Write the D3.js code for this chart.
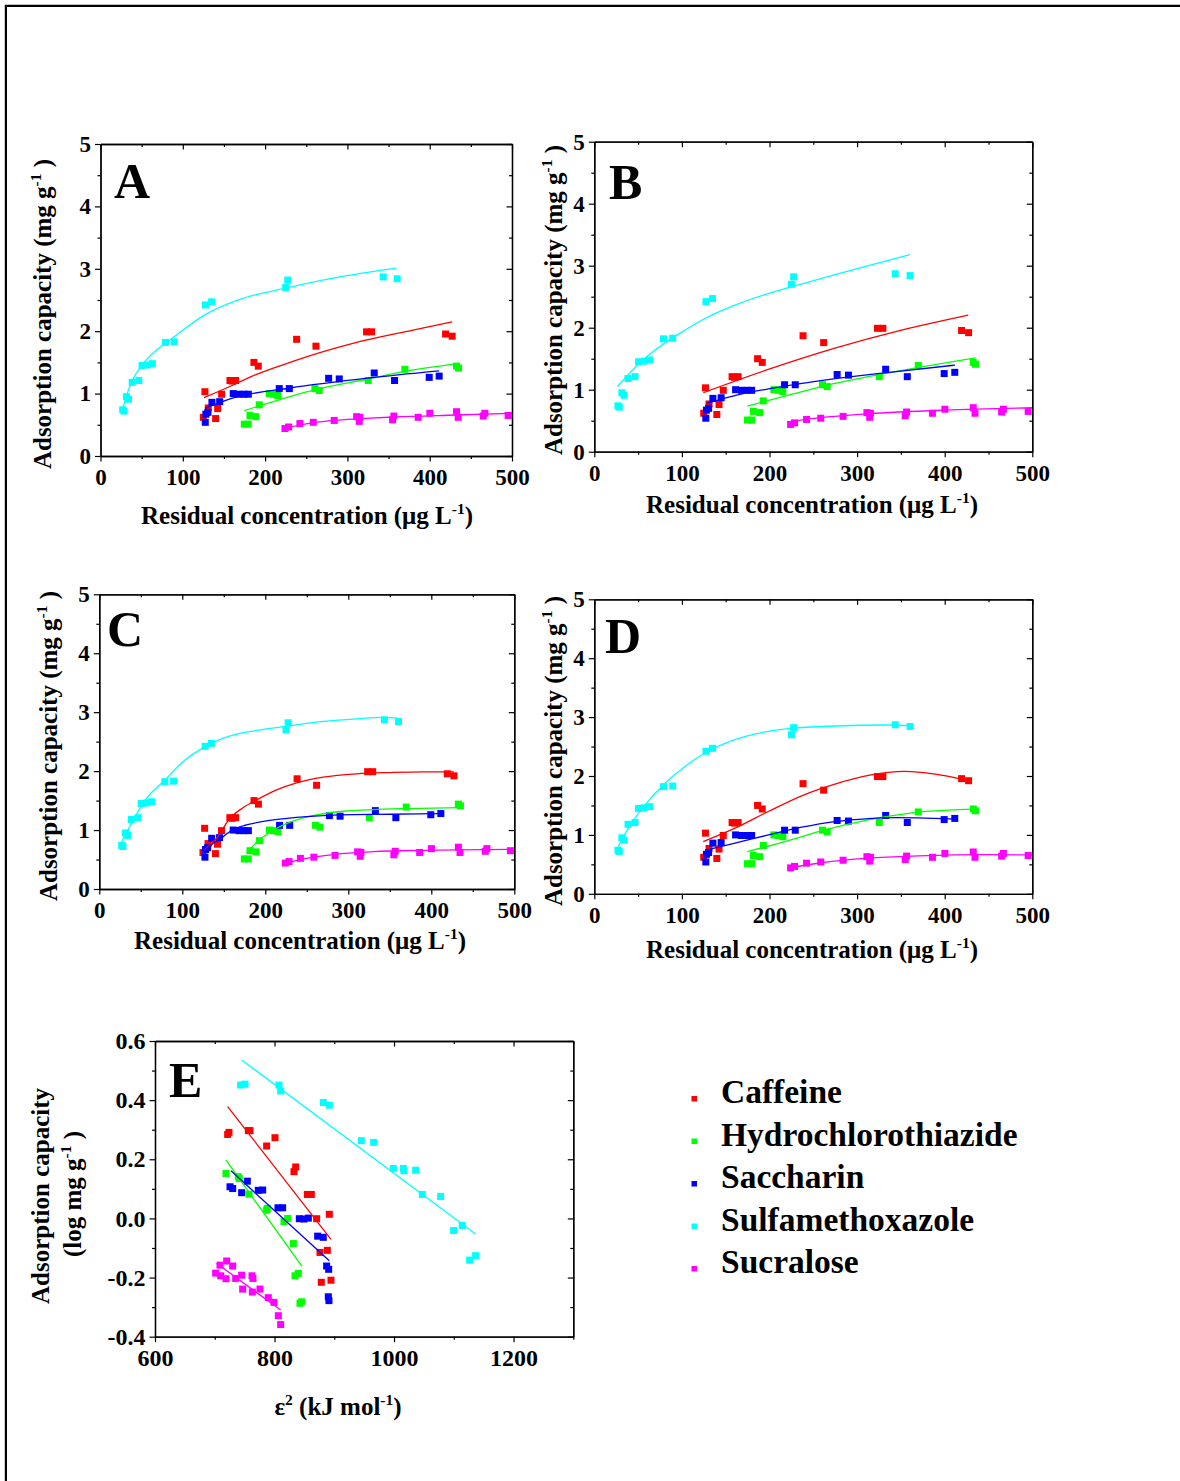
<!DOCTYPE html>
<html>
<head>
<meta charset="utf-8">
<script src="https://cdn.jsdelivr.net/npm/d3@7"></script>
<style>
  html, body { margin: 0; padding: 0; background: #fff; }
  svg { display: block; }
</style>
</head>
<body>
<svg id="fig" width="1180" height="1481"></svg>
<script>
// ---- compounds ----
const compounds = ["Caffeine", "Hydrochlorothiazide", "Saccharin", "Sulfamethoxazole", "Sucralose"];
const compoundColors = ["#ff0000", "#00ff00", "#0000ff", "#00ffff", "#ff00ff"];

// ---- equilibrium data: residual concentration (µg/L) and adsorption capacity (mg/g) ----
const cafC = [124.9, 126.9, 131.0, 139.9, 142.4, 147.2, 157.3, 160.1, 164.2, 186.4, 191.7, 238.3, 261.8, 323.3, 329.4, 419.3, 427.3];
const cafQ = [0.62, 1.03, 0.77, 0.60, 0.76, 0.99, 1.21, 1.20, 1.21, 1.50, 1.44, 1.87, 1.76, 1.99, 1.99, 1.955, 1.92];
const hctC = [174.7, 179.5, 181.6, 188.9, 192.9, 205.0, 209.9, 215.2, 260.5, 265.8, 325.3, 369.8, 432.6, 435.1];
const hctQ = [0.51, 0.51, 0.65, 0.63, 0.82, 1.00, 0.99, 0.97, 1.08, 1.05, 1.21, 1.39, 1.44, 1.41];
const sacC = [127.3, 128.0, 130.5, 135.4, 144.8, 161.3, 168.2, 174.3, 179.6, 217.2, 229.4, 277.2, 290.1, 332.6, 357.3, 399.4, 411.5];
const sacQ = [0.54, 0.67, 0.70, 0.86, 0.87, 1.00, 0.99, 0.99, 0.99, 1.08, 1.08, 1.245, 1.235, 1.33, 1.21, 1.26, 1.28];
const smxC = [27.0, 28.5, 31.5, 34.0, 38.5, 46.5, 50.5, 57.0, 63.0, 79.0, 89.5, 127.5, 135.0, 225.0, 227.5, 343.5, 360.5];
const smxQ = [0.74, 0.72, 0.95, 0.91, 1.18, 1.21, 1.45, 1.46, 1.48, 1.82, 1.83, 2.42, 2.47, 2.70, 2.82, 2.87, 2.84];
const sucC = [224.1, 228.6, 242.3, 258.5, 284.0, 311.2, 315.2, 314.4, 356.5, 354.9, 386.0, 400.2, 432.6, 434.6, 467.0, 465.0, 495.3];
const sucQ = [0.44, 0.465, 0.52, 0.54, 0.57, 0.63, 0.62, 0.555, 0.64, 0.58, 0.62, 0.685, 0.71, 0.62, 0.685, 0.64, 0.65];

// ---- fitted isotherm curves, [C, q] pairs ----
const fitA_caf = [[125.7, 0.934], [161.3, 1.138], [189.7, 1.309], [230.2, 1.50], [270.6, 1.672], [311.2, 1.822], [351.6, 1.94], [384.0, 2.03], [427.3, 2.15]];
const fitA_hct = [[174.7, 0.726], [262.6, 1.069], [325.3, 1.234], [367.8, 1.351], [435.4, 1.486]];
const fitA_sac = [[126.9, 0.764], [161.3, 0.93], [230.2, 1.09], [325.3, 1.25], [411.5, 1.365]];
const fitA_smx = [[26.9, 0.748], [31.8, 0.977], [37.9, 1.191], [52.0, 1.485], [68.2, 1.699], [84.4, 1.859], [127.7, 2.27], [169.4, 2.51], [224.9, 2.69], [290.9, 2.87], [359.8, 3.01]];
const fitA_suc = [[221.3, 0.433], [258.5, 0.534], [284.0, 0.572], [315.2, 0.598], [356.5, 0.625], [432.6, 0.657], [499.5, 0.684]];

const fitB_caf = [[124.4, 0.951], [198.6, 1.327], [274.7, 1.67], [350.8, 1.96], [426.9, 2.202]];
const fitB_hct = [[174.7, 0.736], [217.7, 0.897], [263.3, 1.063], [324.2, 1.241], [435.3, 1.515]];
const fitB_sac = [[128.2, 0.779], [160.6, 0.905], [217.7, 1.058], [293.8, 1.21], [331.8, 1.273], [411.7, 1.396]];
const fitB_smx = [[26.3, 1.047], [46.4, 1.359], [65.4, 1.595], [103.5, 1.96], [126.3, 2.148], [160.6, 2.363], [198.6, 2.551], [255.7, 2.78], [293.8, 2.93], [360.3, 3.179]];
const fitB_suc = [[223.4, 0.483], [257.6, 0.548], [312.8, 0.612], [400.3, 0.671], [500.0, 0.709]];

const fitC_caf = [[126.5, 0.663], [141.4, 0.861], [157.4, 1.2], [173.5, 1.382], [189.6, 1.512], [213.7, 1.682], [237.8, 1.801], [269.9, 1.897], [310.0, 1.954], [350.2, 1.976], [390.4, 1.988], [427.3, 1.988]];
const fitC_hct = [[177.5, 0.606], [189.6, 0.793], [205.6, 0.963], [229.7, 1.133], [261.8, 1.257], [294.0, 1.319], [330.1, 1.348], [370.3, 1.365], [434.5, 1.382]];
const fitC_sac = [[126.5, 0.634], [137.3, 0.776], [149.4, 0.889], [161.4, 1.014], [177.5, 1.087], [209.6, 1.172], [249.8, 1.229], [290.0, 1.257], [350.2, 1.268], [411.6, 1.28]];
const fitC_smx = [[24.1, 0.719], [41.0, 1.172], [57.0, 1.54], [77.1, 1.823], [101.2, 2.163], [126.5, 2.407], [149.4, 2.559], [189.6, 2.69], [224.5, 2.758], [269.9, 2.843], [310.0, 2.888], [343.0, 2.911], [360.2, 2.899]];
const fitC_suc = [[223.7, 0.436], [249.8, 0.521], [283.9, 0.589], [330.1, 0.634], [390.4, 0.657], [498.8, 0.674]];

const fitD_caf = [[124.4, 0.887], [160.6, 1.114], [198.6, 1.397], [236.7, 1.664], [274.7, 1.862], [312.8, 2.009], [354.6, 2.077], [388.9, 2.032], [426.9, 1.924]];
const fitD_hct = [[174.7, 0.717], [217.7, 0.887], [263.3, 1.086], [312.8, 1.256], [369.9, 1.386], [435.3, 1.437]];
const fitD_sac = [[128.2, 0.745], [160.6, 0.859], [198.6, 1.0], [236.7, 1.131], [274.7, 1.227], [312.8, 1.278], [343.2, 1.295], [369.9, 1.29], [411.7, 1.267]];
const fitD_smx = [[25.5, 0.745], [38.8, 1.114], [55.9, 1.471], [76.9, 1.823], [103.5, 2.163], [126.3, 2.39], [160.6, 2.616], [198.6, 2.758], [225.3, 2.809], [274.7, 2.849], [331.8, 2.866], [360.3, 2.854]];
const fitD_suc = [[223.4, 0.445], [255.7, 0.519], [312.8, 0.604], [369.9, 0.643], [446.0, 0.666], [500.0, 0.66]];

// ---- Dubinin-Radushkevich data: ε² (kJ/mol) and log q ----
const cafEps = [721.6, 723.8, 756.2, 759.0, 786.8, 800.8, 832.6, 835.4, 854.9, 861.6, 870.5, 891.7, 876.1, 888.4, 878.3, 894.5];
const cafLogQ = [0.284, 0.291, 0.297, 0.297, 0.245, 0.273, 0.158, 0.174, 0.081, 0.081, -0.001, 0.014, -0.115, -0.108, -0.216, -0.209];
const hctEps = [718.8, 739.4, 741.1, 757.3, 786.8, 788.0, 815.8, 822.0, 831.5, 834.3, 839.8, 842.6, 845.4];
const hctLogQ = [0.152, 0.141, 0.135, 0.082, 0.028, 0.034, -0.011, 0.000, -0.085, -0.194, -0.186, -0.287, -0.282];
const sacEps = [725.5, 730.0, 745.0, 754.5, 772.9, 780.2, 805.8, 813.6, 841.5, 849.3, 856.6, 872.2, 881.6, 887.2, 890.6, 890.0, 891.1];
const sacLogQ = [0.107, 0.101, 0.087, 0.126, 0.095, 0.096, 0.036, 0.036, -0.001, -0.002, 0.001, -0.060, -0.064, -0.161, -0.172, -0.265, -0.278];
const smxEps = [743.3, 750.6, 807.5, 810.3, 881.6, 891.7, 945.2, 965.9, 998.8, 1015.5, 1016.6, 1036.1, 1047.3, 1078.0, 1099.7, 1114.2, 1126.5, 1136.5];
const smxLogQ = [0.451, 0.454, 0.451, 0.431, 0.392, 0.383, 0.263, 0.257, 0.169, 0.169, 0.161, 0.163, 0.081, 0.074, -0.041, -0.024, -0.141, -0.126];
const sucEps = [708.8, 719.9, 730.0, 701.5, 709.9, 718.8, 735.0, 745.0, 762.3, 764.0, 746.7, 762.9, 775.7, 789.6, 799.1, 806.4, 810.3];
const sucLogQ = [-0.158, -0.144, -0.161, -0.185, -0.194, -0.204, -0.203, -0.192, -0.194, -0.203, -0.239, -0.249, -0.239, -0.268, -0.284, -0.329, -0.359];

// linear D-R fits, end points [ε², log q]
const drFitCaf = [[721.6, 0.378], [894.5, -0.071]];
const drFitHct = [[718.8, 0.197], [846.0, -0.162]];
const drFitSac = [[727.2, 0.161], [891.7, -0.143]];
const drFitSmx = [[745.0, 0.536], [1136.5, -0.053]];
const drFitSuc = [[703.2, -0.152], [810.3, -0.310]];

// ---- tick values and labels ----
const isoXTicks = [0, 100, 200, 300, 400, 500];
const isoXMinor = [50, 150, 250, 350, 450];
const isoYTicks = [0, 1, 2, 3, 4, 5];
const isoYMinor = [0.5, 1.5, 2.5, 3.5, 4.5];
const drXTicks = [600, 800, 1000, 1200];
const drXMinor = [700, 900, 1100, 1300];
const drYTicks = [-0.4, -0.2, 0.0, 0.2, 0.4, 0.6];
const drYTickLabels = ["-0.4", "-0.2", "0.0", "0.2", "0.4", "0.6"];
const drYMinor = [-0.3, -0.1, 0.1, 0.3, 0.5];

// ---- assembled series ----
const isoC = [cafC, hctC, sacC, smxC, sucC];
const isoQ = [cafQ, hctQ, sacQ, smxQ, sucQ];
const drEps = [cafEps, hctEps, sacEps, smxEps, sucEps];
const drLogQ = [cafLogQ, hctLogQ, sacLogQ, smxLogQ, sucLogQ];
const drFits = [drFitCaf, drFitHct, drFitSac, drFitSmx, drFitSuc];

const FONT = '"Liberation Serif", "Times New Roman", Times, serif';
const svg = d3.select("#fig");

// page frame (top and left rules)
svg.append("path")
  .attr("d", "M5.9,1481V5.9H1180")
  .attr("fill", "none").attr("stroke", "#000").attr("stroke-width", 2.2);

function styleAxis(sel, fontSize) {
  sel.attr("font-family", FONT).attr("font-size", fontSize).attr("font-weight", "bold");
  sel.selectAll(".domain").attr("stroke", "#000").attr("stroke-width", 1.3);
  sel.selectAll(".tick line").attr("stroke", "#000").attr("stroke-width", 1.2);
  sel.selectAll("text").attr("fill", "#000");
}

// box with outward bottom/left ticks and inward top/right ticks
function drawBox(g, x, y, xMaj, xMin, yMaj, yMin, xFmt, yFmt, fontSize) {
  const [xl, xr] = x.range();
  const [yb, yt] = y.range();
  g.append("g").attr("transform", `translate(0,${yb})`)
    .call(d3.axisBottom(x).tickValues(xMin).tickSize(3).tickSizeOuter(0).tickFormat(""))
    .call(s => styleAxis(s, fontSize));
  g.append("g").attr("transform", `translate(0,${yb})`)
    .call(d3.axisBottom(x).tickValues(xMaj).tickSize(5.5).tickPadding(7).tickSizeOuter(0).tickFormat(xFmt))
    .call(s => styleAxis(s, fontSize));
  g.append("g").attr("transform", `translate(${xl},0)`)
    .call(d3.axisLeft(y).tickValues(yMin).tickSize(3).tickSizeOuter(0).tickFormat(""))
    .call(s => styleAxis(s, fontSize));
  g.append("g").attr("transform", `translate(${xl},0)`)
    .call(d3.axisLeft(y).tickValues(yMaj).tickSize(5.5).tickPadding(4).tickSizeOuter(0).tickFormat(yFmt))
    .call(s => styleAxis(s, fontSize));
  g.append("g").attr("transform", `translate(0,${yt})`)
    .call(d3.axisTop(x).tickValues(xMin).tickSize(-3).tickSizeOuter(0).tickFormat(""))
    .call(s => styleAxis(s, fontSize));
  g.append("g").attr("transform", `translate(0,${yt})`)
    .call(d3.axisTop(x).tickValues(xMaj).tickSize(-5.5).tickSizeOuter(0).tickFormat(""))
    .call(s => styleAxis(s, fontSize));
  g.append("g").attr("transform", `translate(${xr},0)`)
    .call(d3.axisRight(y).tickValues(yMin).tickSize(-3).tickSizeOuter(0).tickFormat(""))
    .call(s => styleAxis(s, fontSize));
  g.append("g").attr("transform", `translate(${xr},0)`)
    .call(d3.axisRight(y).tickValues(yMaj).tickSize(-5.5).tickSizeOuter(0).tickFormat(""))
    .call(s => styleAxis(s, fontSize));
}

function boldText(g, x, y, size) {
  return g.append("text").attr("x", x).attr("y", y)
    .attr("font-family", FONT).attr("font-weight", "bold")
    .attr("font-size", size).attr("fill", "#000");
}

// text with a raised superscript part
function addSup(t, sup, size) {
  t.append("tspan").attr("font-size", size * 0.62).attr("dy", -size * 0.42).text(sup);
  return t.append("tspan").attr("dy", size * 0.42);
}

const MARK = 7;

// ---- isotherm panels A-D ----
const isoPanels = [
  { letter: "A", left: 100.5, right: 512.0, top: 144.0, bottom: 456.0,
    fits: [fitA_caf, fitA_hct, fitA_sac, fitA_smx, fitA_suc],
    letterX: 114, letterY: 198, yTitleX: 51, yTitleY: 314, xTitleX: 307, xTitleY: 524 },
  { letter: "B", left: 594.3, right: 1032.3, top: 141.7, bottom: 451.7,
    fits: [fitB_caf, fitB_hct, fitB_sac, fitB_smx, fitB_suc],
    letterX: 609, letterY: 199, yTitleX: 562, yTitleY: 300, xTitleX: 812, xTitleY: 513 },
  { letter: "C", left: 99.3, right: 514.3, top: 594.3, bottom: 889.0,
    fits: [fitC_caf, fitC_hct, fitC_sac, fitC_smx, fitC_suc],
    letterX: 107, letterY: 646, yTitleX: 57, yTitleY: 746, xTitleX: 300, xTitleY: 949 },
  { letter: "D", left: 594.3, right: 1032.3, top: 599.3, bottom: 893.8,
    fits: [fitD_caf, fitD_hct, fitD_sac, fitD_smx, fitD_suc],
    letterX: 605, letterY: 653, yTitleX: 562, yTitleY: 751, xTitleX: 812, xTitleY: 958 }
];

isoPanels.forEach((p, pi) => {
  const g = svg.append("g");
  const x = d3.scaleLinear().domain([0, 500]).range([p.left, p.right]);
  const y = d3.scaleLinear().domain([0, 5]).range([p.bottom, p.top]);

  const clipId = "clip" + pi;
  g.append("clipPath").attr("id", clipId).append("rect")
    .attr("x", p.left).attr("y", p.top).attr("width", p.right - p.left).attr("height", p.bottom - p.top);
  const plot = g.append("g").attr("clip-path", `url(#${clipId})`);

  // measured points
  compounds.forEach((c, ci) => {
    plot.append("g").selectAll("rect")
      .data(d3.zip(isoC[ci], isoQ[ci]))
      .join("rect")
      .attr("x", d => x(d[0]) - MARK / 2).attr("y", d => y(d[1]) - MARK / 2)
      .attr("width", MARK).attr("height", MARK)
      .attr("fill", compoundColors[ci]);
  });
  // model curves
  const line = d3.line().x(d => x(d[0])).y(d => y(d[1])).curve(d3.curveMonotoneX);
  compounds.forEach((c, ci) => {
    plot.append("path").datum(p.fits[ci]).attr("d", line)
      .attr("fill", "none").attr("stroke", compoundColors[ci]).attr("stroke-width", 1.3);
  });

  drawBox(g, x, y, isoXTicks, isoXMinor, isoYTicks, isoYMinor, d3.format("d"), d3.format("d"), 23);

  boldText(g, p.letterX, p.letterY, 50).text(p.letter);

  const xt = boldText(g, p.xTitleX, p.xTitleY, 25).attr("text-anchor", "middle");
  xt.append("tspan").text("Residual concentration (μg L");
  addSup(xt, "-1", 25).text(")");

  const yt = boldText(g, 0, 0, 25).attr("text-anchor", "middle")
    .attr("transform", `translate(${p.yTitleX},${p.yTitleY}) rotate(-90)`);
  yt.append("tspan").text("Adsorption capacity (mg g");
  addSup(yt, "-1", 25).text(" )");
});

// ---- panel E: Dubinin-Radushkevich ----
(function () {
  const left = 155, right = 573.3, top = 1041, bottom = 1336.7;
  const g = svg.append("g");
  const x = d3.scaleLinear().domain([600, 1300]).range([left, right]);
  const y = d3.scaleLinear().domain([-0.4, 0.6]).range([bottom, top]);

  g.append("clipPath").attr("id", "clipE").append("rect")
    .attr("x", left).attr("y", top).attr("width", right - left).attr("height", bottom - top);
  const plot = g.append("g").attr("clip-path", "url(#clipE)");

  compounds.forEach((c, ci) => {
    plot.append("g").selectAll("rect")
      .data(d3.zip(drEps[ci], drLogQ[ci]))
      .join("rect")
      .attr("x", d => x(d[0]) - MARK / 2).attr("y", d => y(d[1]) - MARK / 2)
      .attr("width", MARK).attr("height", MARK)
      .attr("fill", compoundColors[ci]);
  });
  const line = d3.line().x(d => x(d[0])).y(d => y(d[1]));
  compounds.forEach((c, ci) => {
    plot.append("path").datum(drFits[ci]).attr("d", line)
      .attr("fill", "none").attr("stroke", compoundColors[ci]).attr("stroke-width", 1.3);
  });

  const yLab = d => drYTickLabels[drYTicks.findIndex(v => Math.abs(v - d) < 1e-9)];
  drawBox(g, x, y, drXTicks, drXMinor, drYTicks, drYMinor, d3.format("d"), yLab, 24);

  boldText(g, 169, 1097, 50).text("E");

  const xt = boldText(g, 338, 1415, 25).attr("text-anchor", "middle");
  xt.append("tspan").text("ε");
  addSup(xt, "2", 25).text(" (kJ mol");
  addSup(xt, "-1", 25).text(")");

  boldText(g, 0, 0, 25).attr("text-anchor", "middle")
    .attr("transform", "translate(49,1196) rotate(-90)")
    .text("Adsorption capacity");
  const y2 = boldText(g, 0, 0, 25).attr("text-anchor", "middle")
    .attr("transform", "translate(81,1194) rotate(-90)");
  y2.append("tspan").text("(log mg g");
  addSup(y2, "-1", 25).text(" )");
})();

// ---- legend ----
const legend = svg.append("g");
const legendY = d3.scalePoint().domain(compounds).range([1103, 1273]);
compounds.forEach((c, ci) => {
  const yb = legendY(c);
  legend.append("rect").attr("x", 691.5).attr("y", yb - 7).attr("width", 5.5).attr("height", 5.5)
    .attr("fill", compoundColors[ci]);
  boldText(legend, 721, yb, 33.5).text(c);
});
</script>
</body>
</html>
